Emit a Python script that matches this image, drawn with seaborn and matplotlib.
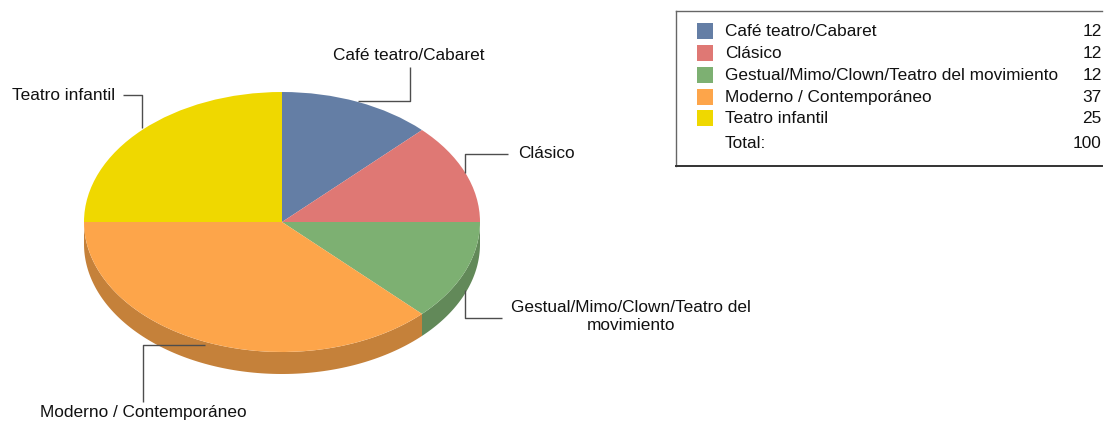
import matplotlib

matplotlib.use("Agg")

import matplotlib.pyplot as plt
import numpy as np
import seaborn as sns
from matplotlib.patches import Polygon, Rectangle


CATEGORIES = [
    "Café teatro/Cabaret",
    "Clásico",
    "Gestual/Mimo/Clown/Teatro del movimiento",
    "Moderno / Contemporáneo",
    "Teatro infantil",
]
PIE_LABELS = [
    "Café teatro/Cabaret",
    "Clásico",
    "Gestual/Mimo/Clown/Teatro del\nmovimiento",
    "Moderno / Contemporáneo",
    "Teatro infantil",
]
VALUES = [12.5, 12.5, 12.5, 37.5, 25.0]
VALUE_LABELS = ["12.5", "12.5", "12.5", "37.5", "25.0"]
TOTAL_LABEL = "Total:"
TOTAL_VALUE = "100.0"
COLORS = ["#647ea5", "#df7874", "#7db072", "#fda54a", "#efd800"]

# layout in pixels (figure 1120 x 426, y from top)
W, H = 1120, 426
CX, CY, RX, RY, DEPTH = 282, 222, 198, 130, 22
LABEL_LAYOUT = [
    dict(xy=(409, 55), ha="center", line=[(410, 67), (410, 101), (358, 101)]),
    dict(xy=(518, 154), ha="left", line=[(508, 154), (465, 154), (465, 173)]),
    dict(xy=(631, 317), ha="center", line=[(502, 318), (465, 318), (465, 290)]),
    dict(xy=(143, 412), ha="center", line=[(143, 402), (143, 345), (205, 345)]),
    dict(xy=(115, 95), ha="right", line=[(123, 95), (142, 95), (142, 128)]),
]
LINE_COLOR = "#4d4d4d"
FONT_SIZE = 12.4


def darker(color, factor=0.78):
    rgb = np.array(matplotlib.colors.to_rgb(color))
    return tuple(rgb * factor)


def draw_pie(fig, palette):
    ax = fig.add_axes([0, 0, 1, 1])
    ax.pie(
        VALUES,
        colors=palette,
        startangle=90,
        counterclock=False,
        wedgeprops={"linewidth": 0, "antialiased": True},
    )
    ax.set_aspect("auto")
    ax.set_xlim(-CX / RX, (W - CX) / RX)
    ax.set_ylim(-(H - CY) / RY, CY / RY)
    ax.axis("off")

    # visible side wall of the lower half
    depth = DEPTH / RY
    cum = np.concatenate([[0], np.cumsum(VALUES)]) / sum(VALUES)
    for i, color in enumerate(palette):
        a1 = 90 - 360 * cum[i]
        a2 = 90 - 360 * cum[i + 1]
        lo, hi = max(a2, -180), min(a1, 0)
        if hi <= lo:
            continue
        t = np.radians(np.linspace(lo, hi, 120))
        top = np.column_stack([np.cos(t), np.sin(t)])
        bottom = np.column_stack([np.cos(t[::-1]), np.sin(t[::-1]) - depth])
        ax.add_patch(
            Polygon(np.vstack([top, bottom]), closed=True, facecolor=darker(color),
                    edgecolor="none", zorder=0)
        )
    return ax


def draw_labels(fig):
    ax = fig.add_axes([0, 0, 1, 1])
    ax.set_xlim(0, W)
    ax.set_ylim(H, 0)
    ax.axis("off")
    for text, lay in zip(PIE_LABELS, LABEL_LAYOUT):
        ax.text(*lay["xy"], text, ha=lay["ha"], va="center", ma="center",
                fontsize=FONT_SIZE, color="#111111", linespacing=1.25)
        xs, ys = zip(*lay["line"])
        ax.plot(xs, ys, color=LINE_COLOR, linewidth=1.0, solid_capstyle="butt")


def draw_legend(fig, palette):
    left, right, top, bottom = 676, 1102, 11, 166
    ax = fig.add_axes([left / W, 1 - bottom / H, (right - left) / W, (bottom - top) / H])
    ax.set_xlim(left, right)
    ax.set_ylim(bottom, top)
    ax.set_xticks([])
    ax.set_yticks([])
    ax.set_facecolor("white")
    for side in ["left", "top", "bottom"]:
        ax.spines[side].set_color("#666666")
        ax.spines[side].set_linewidth(1.0)
    ax.spines["bottom"].set_color("#333333")
    ax.spines["bottom"].set_linewidth(1.4)
    ax.spines["right"].set_visible(False)

    row_y = [31, 53, 75, 97, 118]
    for y, name, val, color in zip(row_y, CATEGORIES, VALUE_LABELS, palette):
        ax.add_patch(Rectangle((697, y - 8), 16, 16, facecolor=color, edgecolor="none"))
        ax.text(725, y, name, va="center", fontsize=FONT_SIZE, color="#111111")
        t = ax.text(1116, y, val, va="center", ha="right", fontsize=FONT_SIZE,
                    color="#111111", clip_on=True)
        t.set_clip_box(ax.bbox)
    ax.text(725, 143, TOTAL_LABEL, va="center", fontsize=FONT_SIZE, color="#111111")
    t = ax.text(1116, 143, TOTAL_VALUE, va="center", ha="right", fontsize=FONT_SIZE,
                color="#111111", clip_on=True)
    t.set_clip_box(ax.bbox)


def main():
    sns.set_theme(style="white")
    plt.rcParams["font.family"] = ["Liberation Sans", "DejaVu Sans"]
    palette = sns.color_palette(COLORS)

    fig = plt.figure(figsize=(W / 100, H / 100), dpi=100)
    fig.patch.set_facecolor("white")
    draw_pie(fig, palette)
    draw_labels(fig)
    draw_legend(fig, palette)
    fig.savefig("out.png", dpi=100, facecolor="white")
    plt.close(fig)


if __name__ == "__main__":
    main()
